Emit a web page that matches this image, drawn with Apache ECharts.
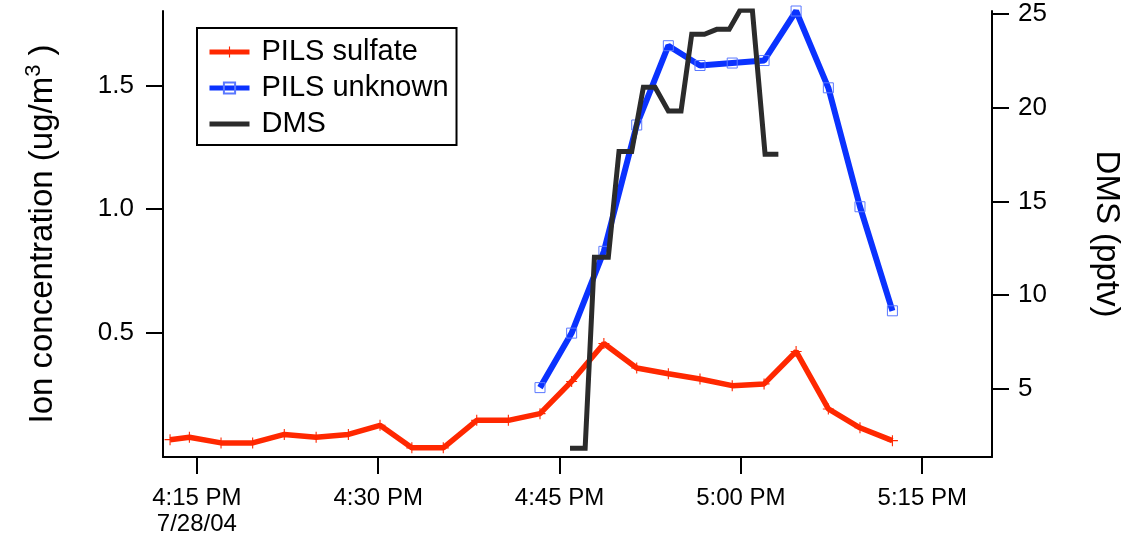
<!DOCTYPE html>
<html>
<head>
<meta charset="utf-8">
<script src="https://cdn.jsdelivr.net/npm/echarts@6/dist/echarts.min.js"></script>
<style>
  html, body { margin: 0; padding: 0; background: #ffffff; }
  #chart { width: 1127px; height: 538px; }
</style>
</head>
<body>
<div id="chart"></div>
<script>
// PILS sample times, 7/28/04 (local clock)
const pilsTimes = [
  '16:12:47', '16:14:23', '16:17:00', '16:19:37', '16:22:14', '16:24:52',
  '16:27:32', '16:30:09', '16:32:47', '16:35:23', '16:38:09', '16:40:46',
  '16:43:23', '16:46:00', '16:48:40', '16:51:23', '16:54:00', '16:56:37',
  '16:59:17', '17:01:55', '17:04:34', '17:07:14', '17:09:51', '17:12:32'
];
// ug/m3
const pilsSulfate = [
  0.070, 0.080, 0.057, 0.057, 0.091, 0.080,
  0.091, 0.128, 0.037, 0.037, 0.148, 0.148,
  0.175, 0.305, 0.458, 0.359, 0.336, 0.315,
  0.288, 0.295, 0.426, 0.194, 0.118, 0.066
];
const pilsUnknown = [
  null, null, null, null, null, null,
  null, null, null, null, null, null,
  0.28, 0.50, 0.83, 1.34, 1.66, 1.58,
  1.59, 1.60, 1.80, 1.49, 1.01, 0.59
];
// DMS (pptv), start/end of each averaging window
const dmsTimes = [
  '16:45:52', '16:47:07', '16:47:53', '16:49:02', '16:49:55', '16:50:58',
  '16:51:56', '16:52:54', '16:54:00', '16:55:03', '16:55:56', '16:56:59',
  '16:58:00', '16:59:02', '16:59:56', '17:00:57', '17:02:00', '17:03:06'
];
const dmsValues = [
  1.84, 1.84, 12.02, 12.02, 17.66, 17.66,
  21.09, 21.09, 19.83, 19.83, 23.92, 23.92,
  24.18, 24.18, 25.2, 25.2, 17.52, 17.52
];
// axis ticks
const timeTicks = ['16:15', '16:30', '16:45', '17:00', '17:15'];
const dateLabel = '7/28/04';
const ionTicks = [0.5, 1.0, 1.5];
const dmsTicks = [5, 10, 15, 20, 25];

// minutes after 4:00 PM
function toMinutes(s) {
  const p = s.split(':').map(Number);
  return (p[0] - 16) * 60 + p[1] + (p[2] || 0) / 60;
}
function clockLabel(v) {
  const total = Math.round(v) + 16 * 60;
  let h = Math.floor(total / 60);
  const m = total % 60;
  const ampm = h >= 12 ? 'PM' : 'AM';
  h = h % 12; if (h === 0) h = 12;
  return h + ':' + String(m).padStart(2, '0') + ' ' + ampm;
}

const tickMinutes = timeTicks.map(toMinutes);
const sulfateData = pilsTimes.map((t, i) => [toMinutes(t), pilsSulfate[i]]);
const unknownData = pilsTimes.map((t, i) => [toMinutes(t), pilsUnknown[i]])
  .filter(d => d[1] !== null);
const dmsData = dmsTimes.map((t, i) => [toMinutes(t), dmsValues[i]]);

const FONT = 'Liberation Sans, Arial, Helvetica, sans-serif';
const RED = '#ff2800';
const BLUE = '#0a32ff';
const BLACK = '#2b2b2b';
const plusPath = 'path://M9,0h2v9h9v2h-9v9h-2v-9h-9v-2h9z';
const barIcon = 'path://M0,0h40v5h-40z';

const chart = echarts.init(document.getElementById('chart'), null, { renderer: 'canvas' });

const axisLine = { show: true, onZero: false, lineStyle: { color: '#000', width: 2 } };
const axisTick = { show: true, inside: false, length: 17, lineStyle: { color: '#000', width: 2 } };

chart.setOption({
  animation: false,
  backgroundColor: '#ffffff',
  textStyle: { fontFamily: FONT },
  grid: { left: 163, right: 135, top: 11, bottom: 81, containLabel: false, outerBoundsMode: 'none' },
  legend: {
    left: 197, top: 28,
    orient: 'vertical',
    borderColor: '#000', borderWidth: 2,
    padding: [9, 8, 6, 10],
    itemWidth: 40, itemHeight: 14, itemGap: 6,
    lineStyle: { width: 5 },
    textStyle: { fontFamily: FONT, fontSize: 29, color: '#000', lineHeight: 30, padding: [0, 0, 0, 7] },
    data: [
      { name: 'PILS sulfate' },
      { name: 'PILS unknown' },
      { name: 'DMS', icon: barIcon, itemStyle: { color: BLACK } }
    ]
  },
  xAxis: {
    type: 'value',
    min: 12.2, max: 80.77,
    axisLine: axisLine,
    axisTick: Object.assign({}, axisTick, { customValues: tickMinutes }),
    splitLine: { show: false },
    axisLabel: {
      customValues: tickMinutes,
      margin: 28,
      fontFamily: FONT, fontSize: 24, color: '#000', lineHeight: 26,
      formatter: function (v) {
        const s = clockLabel(v);
        return Math.abs(v - tickMinutes[0]) < 0.01 ? s + '\n' + dateLabel : s;
      }
    }
  },
  yAxis: [
    {
      type: 'value',
      position: 'left',
      min: 0, max: 1.8,
      axisLine: axisLine,
      axisTick: Object.assign({}, axisTick, { customValues: ionTicks }),
      splitLine: { show: false },
      axisLabel: {
        customValues: ionTicks, margin: 29,
        fontFamily: FONT, fontSize: 26, color: '#000',
        formatter: v => v.toFixed(1)
      },
      name: 'Ion concentration (ug/m{sup|3}{b| )}',
      nameLocation: 'middle',
      nameRotate: 90,
      nameGap: 100,
      nameTextStyle: {
        fontFamily: FONT, fontSize: 33, color: '#000', lineHeight: 40,
        rich: {
          sup: { fontFamily: FONT, fontSize: 22, color: '#000', verticalAlign: 'top', lineHeight: 40 },
          b: { fontFamily: FONT, fontSize: 33, color: '#000', lineHeight: 40 }
        }
      }
    },
    {
      type: 'value',
      position: 'right',
      min: 1.37, max: 25.16,
      axisLine: axisLine,
      axisTick: Object.assign({}, axisTick, { customValues: dmsTicks }),
      splitLine: { show: false },
      axisLabel: {
        customValues: dmsTicks, margin: 26,
        fontFamily: FONT, fontSize: 26, color: '#000'
      },
      name: 'DMS (pptv)',
      nameLocation: 'middle',
      nameRotate: -90,
      nameGap: 98,
      nameTextStyle: { fontFamily: FONT, fontSize: 33, color: '#000' }
    }
  ],
  series: [
    {
      name: 'PILS sulfate',
      type: 'line',
      yAxisIndex: 0,
      data: sulfateData,
      symbol: plusPath,
      symbolSize: 11,
      showAllSymbol: true,
      lineStyle: { color: RED, width: 5.5 },
      itemStyle: { color: RED },
      z: 2
    },
    {
      name: 'PILS unknown',
      type: 'line',
      yAxisIndex: 0,
      data: unknownData,
      symbol: 'rect',
      symbolSize: 10,
      showAllSymbol: true,
      lineStyle: { color: BLUE, width: 6 },
      itemStyle: { color: 'rgba(0,0,0,0)', borderColor: '#5a78ff', borderWidth: 1 },
      z: 3
    },
    {
      name: 'DMS',
      type: 'line',
      yAxisIndex: 1,
      data: dmsData,
      symbol: 'none',
      lineStyle: { color: BLACK, width: 5, join: 'miter' },
      itemStyle: { color: BLACK },
      z: 4
    }
  ]
});
</script>
</body>
</html>
